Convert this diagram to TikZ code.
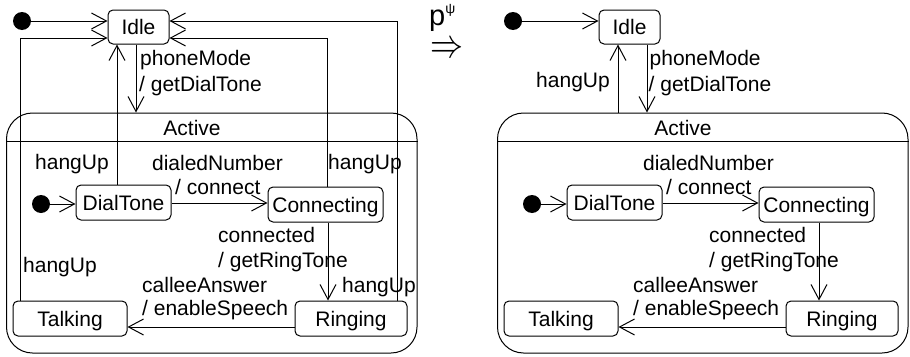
\documentclass[tikz,border=0pt]{standalone}
\usepackage{fontspec}
\setmainfont{Liberation Sans}
\usetikzlibrary{arrows.meta}
\newcommand\stcommon{%
  \node[initdot] (d0) at (22,21) {};
  \node[stbox, minimum width=61pt, minimum height=34pt] (idle) at (138.5,27) {Idle};
  \draw[arr] (d0.east) -- (idle.west |- d0.east);
  \node[comp, minimum width=410.5pt, minimum height=240pt] (act) at (211.75,233) {};
  \coordinate (ydiv) at (0,141);
  \draw[ln] (act.west |- ydiv) -- (act.east |- ydiv);
  \node[lbl] (actt) at (192,128) {Active};
  \node[initdot] (d1) at (41,204) {};
  \node[stbox, minimum width=95pt, minimum height=35pt] (dial) at (123.5,202.5) {DialTone};
  \node[stbox, minimum width=115pt, minimum height=35pt] (conn) at (325.5,204.5) {Connecting};
  \node[stbox, minimum width=114pt, minimum height=35pt] (talk) at (70,318.5) {Talking};
  \node[stbox, minimum width=112pt, minimum height=35pt] (ring) at (351,318.5) {Ringing};
  \draw[arr] (d1.east) -- (dial.west |- d1.east);
  \coordinate (y1) at (0,203);
  \draw[arr] (dial.east |- y1) -- (conn.west |- y1);
  \coordinate (x1) at (328,0);
  \draw[arr] (conn.south -| x1) -- (ring.north -| x1);
  \coordinate (y2) at (0,327);
  \draw[arr] (ring.west |- y2) -- (talk.east |- y2);
  \node[lbl] (ldn) at (217.5,162.5) {dialedNumber};
  \node[lbl, anchor=west] (lcn) at (175,187) {/ connect};
  \node[lbl, anchor=west] (lcd) at (218,234.5) {connected};
  \node[lbl, anchor=west] (lrt) at (218,259.5) {/ getRingTone};
  \node[lbl, anchor=west] (lca) at (142,284.5) {calleeAnswer};
  \node[lbl, anchor=west] (les) at (142,308) {/ enableSpeech};
}
\begin{document}
\begin{tikzpicture}[x=1pt,y=-1pt,
  every node/.style={font=\fontsize{21}{25}\selectfont},
  stbox/.style={draw, line width=1pt, rounded corners=5pt, inner sep=0pt, text height=15pt, text depth=0pt},
  comp/.style={draw, line width=1pt, rounded corners=26pt, inner sep=0pt},
  lbl/.style={inner sep=0pt, text height=15pt, text depth=0pt},
  arr/.style={line width=1pt, -{Straight Barb[length=15pt,width=16pt,line width=1pt]}},
  ln/.style={line width=1pt},
  initdot/.style={circle, fill=black, inner sep=0pt, minimum size=18pt}
]
\useasboundingbox (0,0) rectangle (910,356);

% left diagram
\begin{scope}[name prefix=L-]
  \stcommon
  \coordinate (ca) at (20.5,38);
  \draw[arr] (talk.north -| ca) -- (ca) -- (idle.west |- ca);
  \coordinate (cb) at (327,38);
  \draw[arr] (conn.north -| cb) -- (cb) -- (idle.east |- cb);
  \coordinate (cc) at (397,21);
  \draw[arr] (ring.north -| cc) -- (cc) -- (idle.east |- cc);
  \coordinate (cd) at (117,0);
  \draw[arr] (dial.north -| cd) -- (idle.south -| cd);
  \coordinate (ce) at (136,0);
  \draw[arr] (idle.south -| ce) -- (act.north -| ce);
  \node[lbl, anchor=west] (lpm) at (140,58) {phoneMode};
  \node[lbl, anchor=west] (lgd) at (139,83.5) {/ getDialTone};
  \node[lbl, anchor=west] (lh1) at (35,162) {hangUp};
  \node[lbl, anchor=west] (lh2) at (328,161.5) {hangUp};
  \node[lbl, anchor=west] (lh3) at (23,265) {hangUp};
  \node[lbl, anchor=west] (lh4) at (342,285) {hangUp};
\end{scope}

% transformation symbol
\node[inner sep=0pt, anchor=base west, font=\fontsize{29}{29}\selectfont] (ppsi) at (429,25) {p\raisebox{12pt}{\fontsize{14}{14}\selectfont ψ}};
\node[inner sep=0pt] (impl) at (446.5,49.5) {\resizebox{33pt}{15pt}{$\Rightarrow$}};

% right diagram
\begin{scope}[name prefix=R-, xshift=491pt]
  \stcommon
  \coordinate (cf) at (127,0);
  \draw[arr] (act.north -| cf) -- (idle.south -| cf);
  \coordinate (cg) at (156,0);
  \draw[arr] (idle.south -| cg) -- (act.north -| cg);
  \node[lbl, anchor=east] (lh) at (119,79.5) {hangUp};
  \node[lbl, anchor=west] (lpm) at (158.5,58) {phoneMode};
  \node[lbl, anchor=west] (lgd) at (157.5,83.5) {/ getDialTone};
\end{scope}
\end{tikzpicture}
\end{document}
